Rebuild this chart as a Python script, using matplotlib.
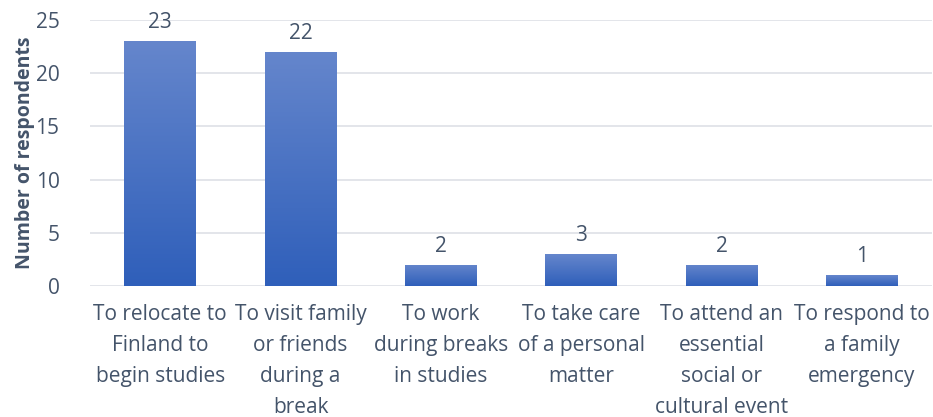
import numpy as np
import matplotlib
matplotlib.use('Agg')
import matplotlib.pyplot as plt
from matplotlib.colors import LinearSegmentedColormap

# chart data
categories = ['To relocate to\nFinland to\nbegin studies',
              'To visit family\nor friends\nduring a\nbreak',
              'To work\nduring breaks\nin studies',
              'To take care\nof a personal\nmatter',
              'To attend an\nessential\nsocial or\ncultural event',
              'To respond to\na family\nemergency']
counts = [23, 22, 2, 3, 2, 1]
y_ticks = [0, 5, 10, 15, 20, 25]

text_color = '#44546a'
plt.rcParams['font.family'] = ['Open Sans', 'DejaVu Sans']

fig = plt.figure(figsize=(9.33, 4.17), dpi=100, facecolor='white')
ax = fig.add_axes([0.0965, 0.314, 0.9025, 0.638])

x = np.arange(len(categories))
bars = ax.bar(x, counts, width=0.51, color='#4472c4', zorder=2)

# vertical gradient fill, lighter at top of each bar
cmap = LinearSegmentedColormap.from_list('grad', ['#2f5fba', '#6586cc'])
grad = np.linspace(0, 1, 256).reshape(-1, 1)
for b in bars:
    x0, w, h = b.get_x(), b.get_width(), b.get_height()
    im = ax.imshow(grad, cmap=cmap, aspect='auto', origin='lower',
                   extent=[x0, x0 + w, 0, h], vmin=0, vmax=1, zorder=3)
    im.set_clip_path(b)
    b.set_facecolor('none')

for xi, v in zip(x, counts):
    ax.text(xi, v + 0.75, str(v), ha='center', va='bottom', fontsize=15, color=text_color)

ax.set_xlim(-0.5, len(categories) - 0.5)
ax.set_ylim(0, 25)
ax.set_yticks(y_ticks)
ax.set_xticks(x)
ax.set_xticklabels(categories, fontsize=15, color=text_color, linespacing=1.62)
ax.tick_params(axis='y', labelsize=15, labelcolor=text_color, length=0, pad=22)
ax.tick_params(axis='x', length=0, pad=13)
ax.grid(axis='y', color='#e0e3e8', linewidth=1.3, zorder=0)
ax.set_axisbelow(True)
for s in ['top', 'right', 'left', 'bottom']:
    ax.spines[s].set_visible(False)
ax.set_ylabel('Number of respondents', fontsize=14, fontweight='bold', color=text_color, labelpad=0)

fig.savefig('out.png', dpi=100, facecolor='white')
